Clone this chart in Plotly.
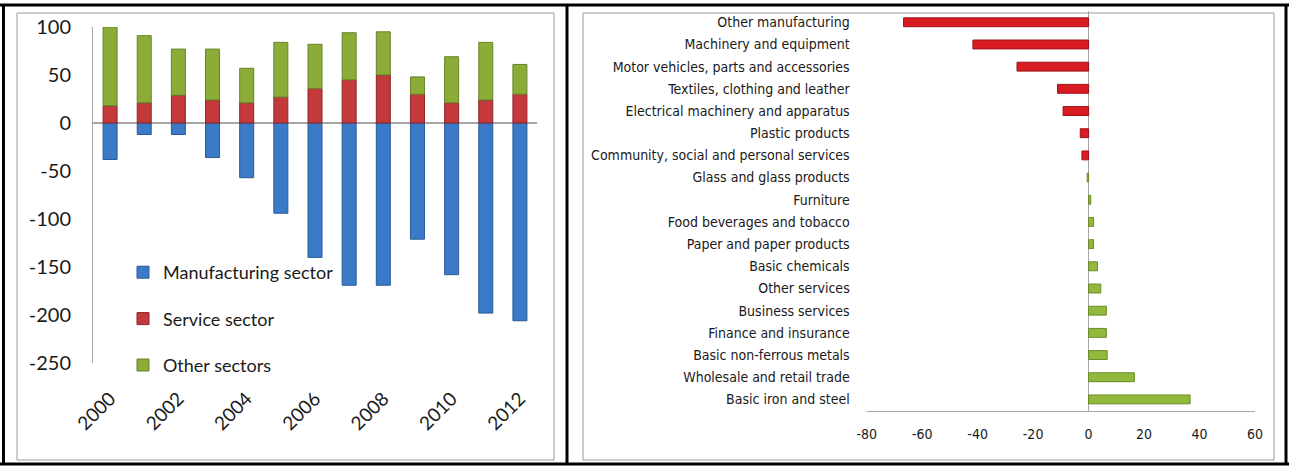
import plotly.graph_objects as go

# ---------------- data ----------------
years = [2000, 2001, 2002, 2003, 2004, 2005, 2006, 2007, 2008, 2009, 2010, 2011, 2012]
manufacturing = [-38, -12, -12, -36, -57, -94, -140, -169, -169, -121, -158, -198, -206]
service = [18, 21, 29, 24, 21, 27, 36, 45, 50, 30, 21, 24, 30]
other_sectors = [82, 70, 48, 53, 36, 57, 46, 49, 45, 18, 48, 60, 31]

left_yticks = [-250, -200, -150, -100, -50, 0, 50, 100]
left_xticks = [2000, 2002, 2004, 2006, 2008, 2010, 2012]

industries = [
    "Other manufacturing",
    "Machinery and equipment",
    "Motor vehicles, parts and accessories",
    "Textiles, clothing and leather",
    "Electrical machinery and apparatus",
    "Plastic products",
    "Community, social and personal services",
    "Glass and glass products",
    "Furniture",
    "Food beverages and tobacco",
    "Paper and paper products",
    "Basic chemicals",
    "Other services",
    "Business services",
    "Finance and insurance",
    "Basic non-ferrous metals",
    "Wholesale and retail trade",
    "Basic iron and steel",
]
industry_change = [-66.7, -41.7, -25.8, -11.2, -9.2, -3.0, -2.4, -0.5, 0.8, 1.8, 1.8,
                   3.2, 4.4, 6.4, 6.4, 6.7, 16.5, 36.6]
right_xticks = [-80, -60, -40, -20, 0, 20, 40, 60]

# ---------------- layout helpers ----------------
W, H = 1289, 466
def fx(x):
    return x / W
def fy(y):
    return 1 - y / H

LEFT_FONT = "Lato, Carlito, Calibri, sans-serif"
RIGHT_FONT = "Liberation Sans Narrow, Arial Narrow, DejaVu Sans Condensed, sans-serif"
GRAY = "#a6a6a6"
TXT = "#1a1a1a"

fig = go.Figure()

fig.add_trace(go.Bar(
    x=years, y=manufacturing, name="Manufacturing sector",
    marker=dict(color="#3b7ac6", line=dict(color="#2a5a96", width=1)),
    legendgroup="m", xaxis="x", yaxis="y"))
fig.add_trace(go.Bar(
    x=years, y=service, name="Service sector",
    marker=dict(color="#c4393b", line=dict(color="#8f2527", width=1)),
    legendgroup="s", xaxis="x", yaxis="y"))
fig.add_trace(go.Bar(
    x=years, y=other_sectors, name="Other sectors",
    marker=dict(color="#8bad38", line=dict(color="#66832a", width=1)),
    legendgroup="o", xaxis="x", yaxis="y"))

bar_colors = ["#d91c22" if v < -1 else "#93b93c" for v in industry_change]
line_colors = ["#9e1016" if v < -1 else "#6a8a26" for v in industry_change]
fig.add_trace(go.Bar(
    x=industry_change, y=industries, orientation="h", showlegend=False,
    marker=dict(color=bar_colors, line=dict(color=line_colors, width=1)),
    xaxis="x2", yaxis="y2", width=0.4))

fig.update_layout(
    width=W, height=H,
    margin=dict(l=0, r=0, t=0, b=0, autoexpand=False),
    paper_bgcolor="white", plot_bgcolor="white",
    barmode="relative", bargap=0.59,
    showlegend=True,
    legend=dict(x=fx(123), y=fy(254), xanchor="left", yanchor="top",
                bgcolor="rgba(0,0,0,0)", font=dict(family=LEFT_FONT, size=18, color=TXT),
                tracegroupgap=20, itemwidth=30),
    xaxis=dict(domain=[fx(93), fx(537)], range=[1999.5, 2012.5], automargin=False,
               tickvals=left_xticks, ticktext=[str(v) for v in left_xticks],
               tickangle=-45, showgrid=False, showline=False, zeroline=False,
               ticks="", ticklabelstandoff=20,
               tickfont=dict(family=LEFT_FONT, size=19, color=TXT)),
    yaxis=dict(domain=[fy(363), fy(27)], range=[-250, 100], automargin=False,
               tickvals=left_yticks, ticktext=[str(v) for v in left_yticks],
               showgrid=False, showline=True, linecolor=GRAY, linewidth=1,
               zeroline=True, zerolinecolor=GRAY, zerolinewidth=1.5,
               ticks="", ticklabelstandoff=17,
               tickfont=dict(family=LEFT_FONT, size=20, color=TXT)),
    xaxis2=dict(domain=[fx(866.7), fx(1255)], range=[-80, 60], anchor="y2", automargin=False,
                tickvals=right_xticks, ticktext=[str(v) for v in right_xticks],
                showgrid=False, showline=True, linecolor=GRAY, linewidth=1,
                zeroline=True, zerolinecolor=GRAY, zerolinewidth=1,
                ticks="", ticklabelstandoff=11,
                tickfont=dict(family=RIGHT_FONT, size=14, color=TXT)),
    yaxis2=dict(domain=[fy(410.5), fy(11.2)], anchor="x2", autorange="reversed", automargin=False,
                type="category", showgrid=False, showline=False, zeroline=False,
                ticks="", ticklabelstandoff=16,
                tickfont=dict(family=RIGHT_FONT, size=14, color=TXT)),
)

shapes = []
# gray chart-area borders
for x0, x1 in [(17, 554), (583, 1274)]:
    shapes.append(dict(type="rect", xref="paper", yref="paper",
                       x0=fx(x0), x1=fx(x1), y0=fy(460), y1=fy(13),
                       line=dict(color="#9a9a9a", width=1), fillcolor="rgba(0,0,0,0)"))
# black table borders
BL = dict(color="black", width=3)
shapes.append(dict(type="line", xref="paper", yref="paper", x0=0, x1=1, y0=fy(5), y1=fy(5), line=BL))
shapes.append(dict(type="line", xref="paper", yref="paper", x0=0, x1=1, y0=fy(464), y1=fy(464), line=BL))
shapes.append(dict(type="line", xref="paper", yref="paper", x0=fx(3.5), x1=fx(3.5), y0=fy(464), y1=fy(5), line=BL))
shapes.append(dict(type="line", xref="paper", yref="paper", x0=fx(567), x1=fx(567), y0=fy(464), y1=fy(5), line=BL))
shapes.append(dict(type="line", xref="paper", yref="paper", x0=fx(1286), x1=fx(1286), y0=fy(464), y1=fy(5), line=BL))
fig.update_layout(shapes=shapes)

fig.write_html("out.html", config={"displayModeBar": False},
               post_script="document.body.style.margin='0';document.body.style.overflow='hidden';")
